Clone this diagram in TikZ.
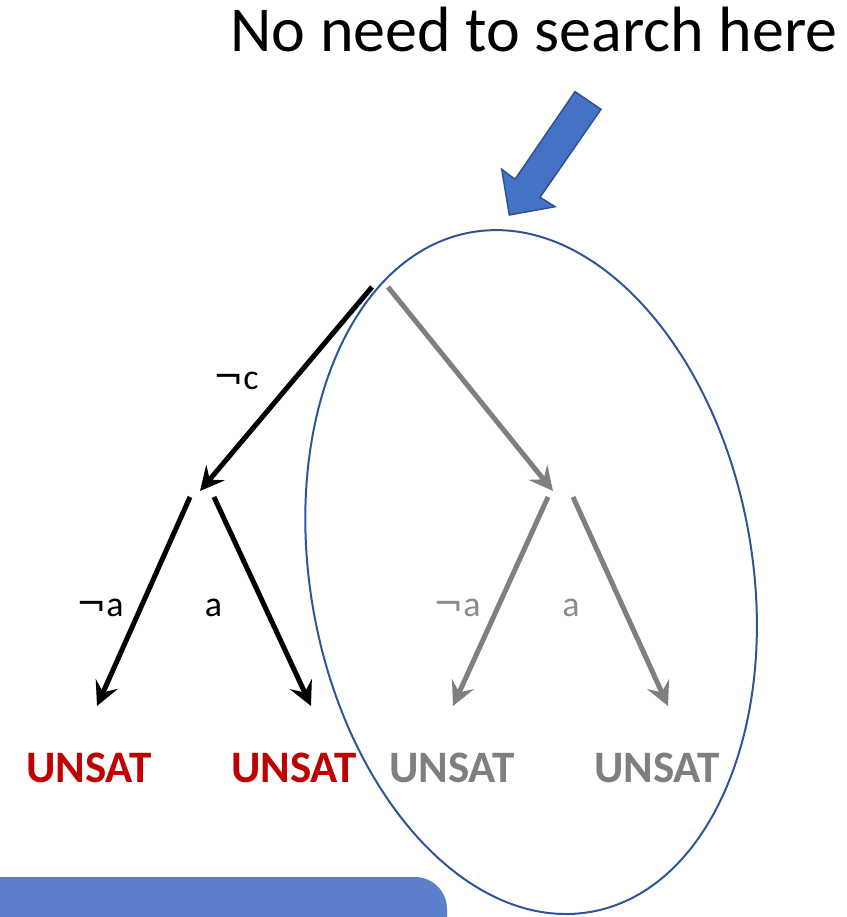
\documentclass[tikz,border=0pt]{standalone}
\usepackage{fontspec}
\setmainfont{Carlito}
\newfontfamily\dvfont{DejaVu Sans}
\usetikzlibrary{arrows.meta}
\definecolor{unsatred}{HTML}{C00000}
\definecolor{midgray}{HTML}{7F7F7F}
\definecolor{lblgray}{HTML}{8C8C8C}
\definecolor{arrowblue}{HTML}{4472C4}
\definecolor{arrowedge}{HTML}{2F528F}
\definecolor{ellblue}{HTML}{2F5597}
\definecolor{boxblue}{HTML}{5B7FCB}
\newcommand{\negsym}{{\dvfont ¬}}
\tikzset{
  edgeblack/.style={line width=5pt, black, -{Stealth[length=24pt,width=24pt,inset=9pt]}},
  edgegray/.style={line width=5pt, midgray, -{Stealth[length=24pt,width=24pt,inset=9pt]}},
  lbl/.style={font=\fontsize{36}{38}\selectfont, inner sep=0pt},
  unsat/.style={font=\fontsize{45}{47}\selectfont\bfseries, inner sep=0pt},
  ellstyle/.style={draw=ellblue, line width=2pt},
  bigarrow/.style={fill=arrowblue, draw=arrowedge, line width=1.5pt, line join=miter},
}
\begin{document}
\begin{tikzpicture}[x=1pt,y=-1pt]
\useasboundingbox (0,0) rectangle (846,917);
% bottom box
\begin{scope}
\clip (0,0) rectangle (846,917);
\fill[boxblue, rounded corners=32pt] (-60,877) rectangle (447,980);
\end{scope}
% title
\node[font=\fontsize{64}{66}\selectfont, inner sep=0pt, anchor=base] (title) at (534,52) {No need to search here};
% big arrow
\draw[bigarrow] (575,91.7) -- (601,109.3) -- (540,197.3) -- (555,206.7) -- (509.3,215) -- (501.7,169.3) -- (515,179.3) -- cycle;
% tree points
\coordinate (rootL) at (372,287);
\coordinate (rootR) at (388,287);
\coordinate (nLin) at (200,491);
\coordinate (nRin) at (553,491);
\coordinate (nLa) at (190,497);
\coordinate (nLb) at (214,497);
\coordinate (nRa) at (548,497);
\coordinate (nRb) at (573,497);
\coordinate (l1) at (97,706);
\coordinate (l2) at (311,706);
\coordinate (l3) at (453,706);
\coordinate (l4) at (668,706);
% edges
\draw[edgeblack] (rootL) -- (nLin);
\draw[edgegray] (rootR) -- (nRin);
\draw[edgeblack] (nLa) -- (l1);
\draw[edgeblack] (nLb) -- (l2);
\draw[edgegray] (nRa) -- (l3);
\draw[edgegray] (nRb) -- (l4);
% labels
\node[lbl, anchor=base] (lc) at (236,389) {\negsym c};
\node[lbl, anchor=base] (la1) at (100,616) {\negsym a};
\node[lbl, anchor=base] (la2) at (213.5,616) {a};
\node[lbl, anchor=base, text=lblgray] (la3) at (457,616) {\negsym a};
\node[lbl, anchor=base, text=lblgray] (la4) at (571,616) {a};
% leaves
\node[unsat, anchor=base, text=unsatred] (u1) at (89,782) {UNSAT};
\node[unsat, anchor=base, text=unsatred] (u2) at (294,782) {UNSAT};
\node[unsat, anchor=base, text=midgray] (u3) at (452,782) {UNSAT};
\node[unsat, anchor=base, text=midgray] (u4) at (657,782) {UNSAT};
% ellipse
\coordinate (ec) at (531,572);
\draw[ellstyle, rotate around={10:(ec)}] (ec) ellipse [x radius=221pt, y radius=345pt];
\end{tikzpicture}
\end{document}
